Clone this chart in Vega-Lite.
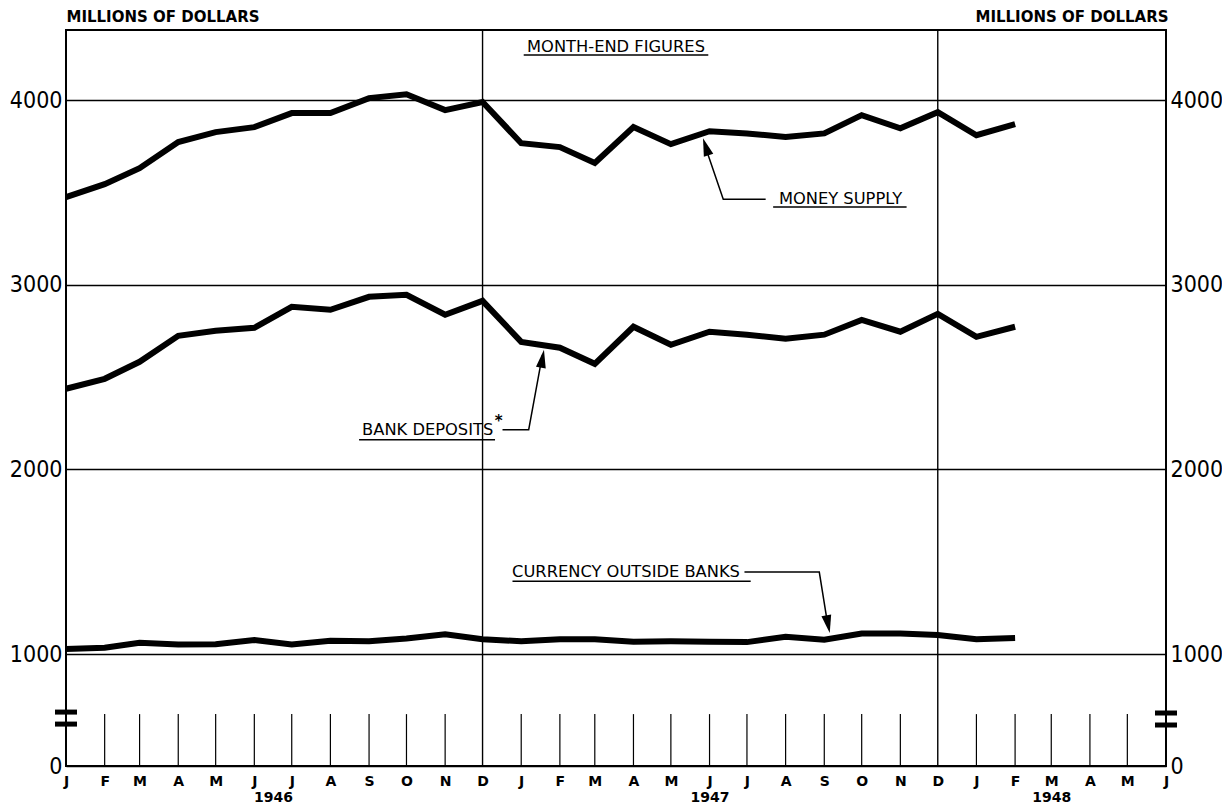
{
  "$schema": "https://vega.github.io/schema/vega-lite/v6.json",
  "width": 1100,
  "height": 736,
  "autosize": {"type": "none"},
  "padding": {"left": 66, "top": 30, "right": 56, "bottom": 40},
  "background": "white",
  "config": {"view": {"stroke": "black", "strokeWidth": 2}, "font": "DejaVu Sans"},
  "datasets": {
    "series": [
      {"date": "1946-01-01", "series": "Money supply", "value": 3475},
      {"date": "1946-02-01", "series": "Money supply", "value": 3545},
      {"date": "1946-03-01", "series": "Money supply", "value": 3632},
      {"date": "1946-04-01", "series": "Money supply", "value": 3773},
      {"date": "1946-05-01", "series": "Money supply", "value": 3827},
      {"date": "1946-06-01", "series": "Money supply", "value": 3854},
      {"date": "1946-07-01", "series": "Money supply", "value": 3930},
      {"date": "1946-08-01", "series": "Money supply", "value": 3930},
      {"date": "1946-09-01", "series": "Money supply", "value": 4011},
      {"date": "1946-10-01", "series": "Money supply", "value": 4032},
      {"date": "1946-11-01", "series": "Money supply", "value": 3946},
      {"date": "1946-12-01", "series": "Money supply", "value": 3990},
      {"date": "1947-01-01", "series": "Money supply", "value": 3767},
      {"date": "1947-02-01", "series": "Money supply", "value": 3746},
      {"date": "1947-03-01", "series": "Money supply", "value": 3660},
      {"date": "1947-04-01", "series": "Money supply", "value": 3854},
      {"date": "1947-05-01", "series": "Money supply", "value": 3762},
      {"date": "1947-06-01", "series": "Money supply", "value": 3832},
      {"date": "1947-07-01", "series": "Money supply", "value": 3820},
      {"date": "1947-08-01", "series": "Money supply", "value": 3800},
      {"date": "1947-09-01", "series": "Money supply", "value": 3820},
      {"date": "1947-10-01", "series": "Money supply", "value": 3919},
      {"date": "1947-11-01", "series": "Money supply", "value": 3848},
      {"date": "1947-12-01", "series": "Money supply", "value": 3935},
      {"date": "1948-01-01", "series": "Money supply", "value": 3810},
      {"date": "1948-02-01", "series": "Money supply", "value": 3870},
      {"date": "1946-01-01", "series": "Bank deposits", "value": 2437},
      {"date": "1946-02-01", "series": "Bank deposits", "value": 2491},
      {"date": "1946-03-01", "series": "Bank deposits", "value": 2583},
      {"date": "1946-04-01", "series": "Bank deposits", "value": 2724},
      {"date": "1946-05-01", "series": "Bank deposits", "value": 2751},
      {"date": "1946-06-01", "series": "Bank deposits", "value": 2767},
      {"date": "1946-07-01", "series": "Bank deposits", "value": 2881},
      {"date": "1946-08-01", "series": "Bank deposits", "value": 2865},
      {"date": "1946-09-01", "series": "Bank deposits", "value": 2935},
      {"date": "1946-10-01", "series": "Bank deposits", "value": 2946},
      {"date": "1946-11-01", "series": "Bank deposits", "value": 2838},
      {"date": "1946-12-01", "series": "Bank deposits", "value": 2913},
      {"date": "1947-01-01", "series": "Bank deposits", "value": 2691},
      {"date": "1947-02-01", "series": "Bank deposits", "value": 2659},
      {"date": "1947-03-01", "series": "Bank deposits", "value": 2572},
      {"date": "1947-04-01", "series": "Bank deposits", "value": 2773},
      {"date": "1947-05-01", "series": "Bank deposits", "value": 2675},
      {"date": "1947-06-01", "series": "Bank deposits", "value": 2746},
      {"date": "1947-07-01", "series": "Bank deposits", "value": 2730},
      {"date": "1947-08-01", "series": "Bank deposits", "value": 2708},
      {"date": "1947-09-01", "series": "Bank deposits", "value": 2730},
      {"date": "1947-10-01", "series": "Bank deposits", "value": 2810},
      {"date": "1947-11-01", "series": "Bank deposits", "value": 2746},
      {"date": "1947-12-01", "series": "Bank deposits", "value": 2843},
      {"date": "1948-01-01", "series": "Bank deposits", "value": 2718},
      {"date": "1948-02-01", "series": "Bank deposits", "value": 2773},
      {"date": "1946-01-01", "series": "Currency outside banks", "value": 1027},
      {"date": "1946-02-01", "series": "Currency outside banks", "value": 1034},
      {"date": "1946-03-01", "series": "Currency outside banks", "value": 1061},
      {"date": "1946-04-01", "series": "Currency outside banks", "value": 1052},
      {"date": "1946-05-01", "series": "Currency outside banks", "value": 1054},
      {"date": "1946-06-01", "series": "Currency outside banks", "value": 1076},
      {"date": "1946-07-01", "series": "Currency outside banks", "value": 1052},
      {"date": "1946-08-01", "series": "Currency outside banks", "value": 1072},
      {"date": "1946-09-01", "series": "Currency outside banks", "value": 1069},
      {"date": "1946-10-01", "series": "Currency outside banks", "value": 1085},
      {"date": "1946-11-01", "series": "Currency outside banks", "value": 1107},
      {"date": "1946-12-01", "series": "Currency outside banks", "value": 1080},
      {"date": "1947-01-01", "series": "Currency outside banks", "value": 1070},
      {"date": "1947-02-01", "series": "Currency outside banks", "value": 1081},
      {"date": "1947-03-01", "series": "Currency outside banks", "value": 1081},
      {"date": "1947-04-01", "series": "Currency outside banks", "value": 1067},
      {"date": "1947-05-01", "series": "Currency outside banks", "value": 1069},
      {"date": "1947-06-01", "series": "Currency outside banks", "value": 1067},
      {"date": "1947-07-01", "series": "Currency outside banks", "value": 1065},
      {"date": "1947-08-01", "series": "Currency outside banks", "value": 1094},
      {"date": "1947-09-01", "series": "Currency outside banks", "value": 1078},
      {"date": "1947-10-01", "series": "Currency outside banks", "value": 1112},
      {"date": "1947-11-01", "series": "Currency outside banks", "value": 1112},
      {"date": "1947-12-01", "series": "Currency outside banks", "value": 1103},
      {"date": "1948-01-01", "series": "Currency outside banks", "value": 1081},
      {"date": "1948-02-01", "series": "Currency outside banks", "value": 1087}
    ],
    "decembers": [{"date": "1946-12-01"}, {"date": "1947-12-01"}],
    "months": [
      {"date": "1946-02-01"}, {"date": "1946-03-01"}, {"date": "1946-04-01"}, {"date": "1946-05-01"},
      {"date": "1946-06-01"}, {"date": "1946-07-01"}, {"date": "1946-08-01"}, {"date": "1946-09-01"},
      {"date": "1946-10-01"}, {"date": "1946-11-01"},
      {"date": "1947-01-01"}, {"date": "1947-02-01"}, {"date": "1947-03-01"}, {"date": "1947-04-01"},
      {"date": "1947-05-01"}, {"date": "1947-06-01"}, {"date": "1947-07-01"}, {"date": "1947-08-01"},
      {"date": "1947-09-01"}, {"date": "1947-10-01"}, {"date": "1947-11-01"},
      {"date": "1948-01-01"}, {"date": "1948-02-01"}, {"date": "1948-03-01"}, {"date": "1948-04-01"},
      {"date": "1948-05-01"}
    ],
    "breaks": [
      {"date": "1946-01-01", "value": 686},
      {"date": "1946-01-01", "value": 621},
      {"date": "1948-06-01", "value": 681},
      {"date": "1948-06-01", "value": 616}
    ],
    "labels": [
      {"date": "1947-03-18", "value": 4287, "label": "MONTH-END FIGURES"},
      {"date": "1947-09-14", "value": 3464, "label": "MONEY SUPPLY"},
      {"date": "1946-10-18", "value": 2215, "label": "BANK DEPOSITS"},
      {"date": "1947-03-26", "value": 1444, "label": "CURRENCY OUTSIDE BANKS"}
    ],
    "underlines": [
      {"date": "1947-01-03", "date2": "1947-05-31", "value": 4245},
      {"date": "1947-07-22", "date2": "1947-11-06", "value": 3421},
      {"date": "1946-08-24", "date2": "1946-12-11", "value": 2161},
      {"date": "1946-12-25", "date2": "1947-07-04", "value": 1395}
    ],
    "leaders": [
      {"leader": "money", "step": 1, "date": "1947-07-16", "value": 3464},
      {"leader": "money", "step": 2, "date": "1947-06-12", "value": 3464},
      {"leader": "money", "step": 3, "date": "1947-05-28", "value": 3760},
      {"leader": "bank", "step": 1, "date": "1946-12-17", "value": 2215},
      {"leader": "bank", "step": 2, "date": "1947-01-07", "value": 2215},
      {"leader": "bank", "step": 3, "date": "1947-01-18", "value": 2620},
      {"leader": "currency", "step": 1, "date": "1947-06-29", "value": 1444},
      {"leader": "currency", "step": 2, "date": "1947-08-28", "value": 1444},
      {"leader": "currency", "step": 3, "date": "1947-09-04", "value": 1150}
    ]
  },
  "resolve": {"axis": {"x": "independent", "y": "independent"}},
  "layer": [
    {
      "data": {"name": "decembers"},
      "mark": {"type": "rule", "color": "black", "strokeWidth": 1.4},
      "encoding": {
        "x": {"field": "date", "type": "temporal", "axis": null}
      }
    },
    {
      "data": {"name": "months"},
      "mark": {"type": "rule", "color": "black", "strokeWidth": 1.2},
      "encoding": {
        "x": {"field": "date", "type": "temporal", "axis": null},
        "y": {"datum": 394, "type": "quantitative", "axis": null},
        "y2": {"datum": 675}
      }
    },
    {
      "data": {"name": "breaks"},
      "mark": {"type": "tick", "orient": "horizontal", "size": 22, "thickness": 5, "color": "black", "opacity": 1},
      "encoding": {
        "x": {"field": "date", "type": "temporal", "axis": null},
        "y": {
          "field": "value", "type": "quantitative",
          "axis": {
            "orient": "right",
            "values": [394, 1000, 2000, 3000, 4000],
            "labelExpr": "datum.value < 500 ? '0' : format(datum.value, 'd')",
            "grid": false, "domain": false, "ticks": false, "tickSize": 0,
            "labelFont": "'DejaVu Sans Condensed', 'Liberation Sans Narrow', sans-serif",
            "labelFontSize": 23, "labelColor": "black", "labelPadding": 4,
            "title": "MILLIONS OF DOLLARS", "titleAngle": 0, "titleX": 2, "titleY": -14,
            "titleAlign": "right", "titleBaseline": "middle",
            "titleFont": "DejaVu Sans", "titleFontSize": 15, "titleFontWeight": "bold", "titleColor": "black"
          }
        }
      }
    },
    {
      "data": {"name": "series"},
      "mark": {"type": "line", "color": "black", "strokeWidth": 6},
      "encoding": {
        "x": {
          "field": "date", "type": "temporal",
          "scale": {
            "type": "utc", "nice": false,
            "domain": [{"year": 1946, "month": 1, "date": 1, "utc": true}, {"year": 1948, "month": 6, "date": 1, "utc": true}]
          },
          "axis": {
            "values": [
              {"year": 1946, "month": 1, "date": 1, "utc": true}, {"year": 1946, "month": 2, "date": 1, "utc": true},
              {"year": 1946, "month": 3, "date": 1, "utc": true}, {"year": 1946, "month": 4, "date": 1, "utc": true},
              {"year": 1946, "month": 5, "date": 1, "utc": true}, {"year": 1946, "month": 6, "date": 1, "utc": true},
              {"year": 1946, "month": 6, "date": 16, "utc": true},
              {"year": 1946, "month": 7, "date": 1, "utc": true}, {"year": 1946, "month": 8, "date": 1, "utc": true},
              {"year": 1946, "month": 9, "date": 1, "utc": true}, {"year": 1946, "month": 10, "date": 1, "utc": true},
              {"year": 1946, "month": 11, "date": 1, "utc": true}, {"year": 1946, "month": 12, "date": 1, "utc": true},
              {"year": 1947, "month": 1, "date": 1, "utc": true}, {"year": 1947, "month": 2, "date": 1, "utc": true},
              {"year": 1947, "month": 3, "date": 1, "utc": true}, {"year": 1947, "month": 4, "date": 1, "utc": true},
              {"year": 1947, "month": 5, "date": 1, "utc": true}, {"year": 1947, "month": 6, "date": 1, "utc": true},
              {"year": 1947, "month": 7, "date": 1, "utc": true}, {"year": 1947, "month": 8, "date": 1, "utc": true},
              {"year": 1947, "month": 9, "date": 1, "utc": true}, {"year": 1947, "month": 10, "date": 1, "utc": true},
              {"year": 1947, "month": 11, "date": 1, "utc": true}, {"year": 1947, "month": 12, "date": 1, "utc": true},
              {"year": 1948, "month": 1, "date": 1, "utc": true}, {"year": 1948, "month": 2, "date": 1, "utc": true},
              {"year": 1948, "month": 3, "date": 1, "utc": true}, {"year": 1948, "month": 4, "date": 1, "utc": true},
              {"year": 1948, "month": 5, "date": 1, "utc": true}, {"year": 1948, "month": 6, "date": 1, "utc": true}
            ],
            "labelExpr": "utcFormat(datum.value, '%Y-%m-%d') == '1946-06-16' ? ['', '1946'] : utcFormat(datum.value, '%Y-%m') == '1947-06' ? ['J', '1947'] : utcFormat(datum.value, '%Y-%m') == '1948-03' ? ['M', '1948'] : substring(utcFormat(datum.value, '%b'), 0, 1)",
            "title": null, "ticks": false, "tickSize": 0, "domain": false, "grid": false,
            "labelFont": "DejaVu Sans", "labelFontWeight": "bold", "labelFontSize": 14, "labelColor": "black",
            "labelPadding": 8, "labelLineHeight": 16, "labelOverlap": false, "labelBound": false, "labelFlush": false
          }
        },
        "y": {
          "field": "value", "type": "quantitative",
          "scale": {"domain": [394, 4380], "zero": false, "nice": false},
          "axis": {
            "orient": "left",
            "values": [394, 1000, 2000, 3000, 4000],
            "labelExpr": "datum.value < 500 ? '0' : format(datum.value, 'd')",
            "grid": true, "gridColor": "black", "gridWidth": 1.4, "gridOpacity": 1,
            "domain": false, "ticks": false, "tickSize": 0,
            "labelFont": "'DejaVu Sans Condensed', 'Liberation Sans Narrow', sans-serif",
            "labelFontSize": 23, "labelColor": "black", "labelPadding": 4,
            "title": "MILLIONS OF DOLLARS", "titleAngle": 0, "titleX": 0, "titleY": -14,
            "titleAlign": "left", "titleBaseline": "middle",
            "titleFont": "DejaVu Sans", "titleFontSize": 15, "titleFontWeight": "bold", "titleColor": "black"
          }
        },
        "detail": {"field": "series"}
      }
    },
    {
      "data": {"name": "underlines"},
      "mark": {"type": "rule", "color": "black", "strokeWidth": 1.5},
      "encoding": {
        "x": {"field": "date", "type": "temporal", "axis": null},
        "x2": {"field": "date2"},
        "y": {"field": "value", "type": "quantitative", "axis": null}
      }
    },
    {
      "data": {"name": "leaders"},
      "mark": {"type": "line", "color": "black", "strokeWidth": 1.5},
      "encoding": {
        "x": {"field": "date", "type": "temporal", "axis": null},
        "y": {"field": "value", "type": "quantitative", "axis": null},
        "detail": {"field": "leader"},
        "order": {"field": "step"}
      }
    },
    {
      "data": {"values": [{"date": "1947-05-29", "value": 3748}]},
      "mark": {"type": "point", "shape": "M0,-1L0.55,1L-0.55,1Z", "size": 324, "angle": -18, "filled": true, "color": "black", "opacity": 1},
      "encoding": {
        "x": {"field": "date", "type": "temporal", "axis": null},
        "y": {"field": "value", "type": "quantitative", "axis": null}
      }
    },
    {
      "data": {"values": [{"date": "1947-01-18", "value": 2600}]},
      "mark": {"type": "point", "shape": "M0,-1L0.55,1L-0.55,1Z", "size": 324, "angle": 10, "filled": true, "color": "black", "opacity": 1},
      "encoding": {
        "x": {"field": "date", "type": "temporal", "axis": null},
        "y": {"field": "value", "type": "quantitative", "axis": null}
      }
    },
    {
      "data": {"values": [{"date": "1947-09-04", "value": 1162}]},
      "mark": {"type": "point", "shape": "M0,-1L0.55,1L-0.55,1Z", "size": 324, "angle": 169, "filled": true, "color": "black", "opacity": 1},
      "encoding": {
        "x": {"field": "date", "type": "temporal", "axis": null},
        "y": {"field": "value", "type": "quantitative", "axis": null}
      }
    },
    {
      "data": {"name": "labels"},
      "mark": {"type": "text", "font": "DejaVu Sans", "fontSize": 16.3, "color": "black", "align": "center", "baseline": "middle"},
      "encoding": {
        "x": {"field": "date", "type": "temporal", "axis": null},
        "y": {"field": "value", "type": "quantitative", "axis": null},
        "text": {"field": "label"}
      }
    },
    {
      "data": {"values": [{"date": "1946-12-14", "value": 2264, "label": "*"}]},
      "mark": {"type": "text", "font": "DejaVu Sans", "fontSize": 15, "fontWeight": "bold", "color": "black", "align": "center", "baseline": "middle"},
      "encoding": {
        "x": {"field": "date", "type": "temporal", "axis": null},
        "y": {"field": "value", "type": "quantitative", "axis": null},
        "text": {"field": "label"}
      }
    }
  ]
}
